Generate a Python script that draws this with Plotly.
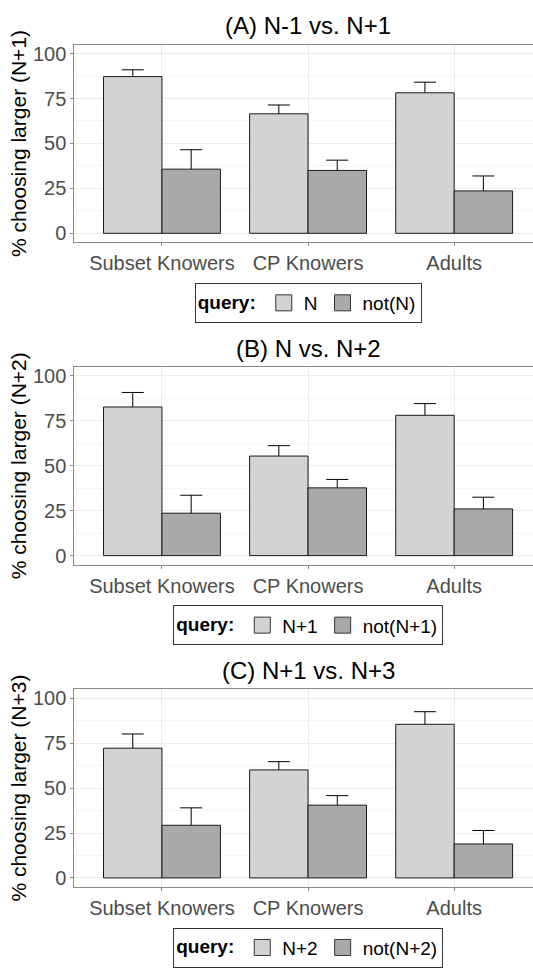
import plotly.graph_objects as go

# ---------------- data ----------------
groups = ["Subset Knowers", "CP Knowers", "Adults"]

panel_titles = ["(A) N-1 vs. N+1", "(B) N vs. N+2", "(C) N+1 vs. N+3"]
y_titles = ["% choosing larger (N+1)", "% choosing larger (N+2)", "% choosing larger (N+3)"]
query_names = ["N", "N+1", "N+2"]
not_query_names = ["not(N)", "not(N+1)", "not(N+2)"]

a_query_mean = [87.2, 66.5, 78.2]
a_query_se = [3.8, 4.9, 5.9]
a_not_mean = [35.7, 35.0, 23.6]
a_not_se = [10.8, 5.7, 8.3]

b_query_mean = [82.7, 55.4, 78.1]
b_query_se = [8.1, 5.8, 6.5]
b_not_mean = [23.6, 37.7, 26.0]
b_not_se = [10.0, 4.7, 6.5]

c_query_mean = [72.2, 60.1, 85.5]
c_query_se = [7.9, 4.6, 7.0]
c_not_mean = [29.3, 40.5, 18.9]
c_not_se = [9.7, 5.3, 7.5]

y_ticks = [0, 25, 50, 75, 100]
y_minor = [12.5, 37.5, 62.5, 87.5]

panels = [
    (a_query_mean, a_query_se, a_not_mean, a_not_se),
    (b_query_mean, b_query_se, b_not_mean, b_not_se),
    (c_query_mean, c_query_se, c_not_mean, c_not_se),
]

# ---------------- styling / layout ----------------
W, H = 533, 968
LIGHT = "#d3d3d3"
DARK = "#a9a9a9"
EDGE = "#1a1a1a"
AXIS = "#8a8a8a"
FONT = "Liberation Sans, Arial, sans-serif"

plot_left = 74.3
plot_center_px = 308.2
# panel (top, bottom) in pixels from the top of the page
panel_px = [(45, 244.3), (370, 569.3), (695, 894.3)]
title_px = [26, 351, 676]
legend_px = [305.5, 630.5, 955.5]


def py(px):
    return (H - px) / H


fig = go.Figure()
layout = dict(
    width=W, height=H,
    margin=dict(l=0, r=0, t=0, b=0),
    paper_bgcolor="white", plot_bgcolor="white",
    font=dict(family=FONT, color="black"),
    barmode="group", bargap=0.2, bargroupgap=0,
    annotations=[],
)

for i, (qm, qs, nm, ns) in enumerate(panels):
    k = "" if i == 0 else str(i + 1)
    xa, ya = "x" + k, "y" + k
    leg = "legend" + k

    series = ((qm, qs, LIGHT, query_names[i]), (nm, ns, DARK, not_query_names[i]))
    # error bars first (drawn underneath), then the opaque bars on top
    for mean, se, color, name in series:
        fig.add_trace(go.Bar(
            x=groups, y=mean, xaxis=xa, yaxis=ya, showlegend=False,
            offsetgroup=name,
            marker=dict(color="rgba(0,0,0,0)", line=dict(width=0)),
            error_y=dict(type="data", array=se, color="black",
                         thickness=1, width=11),
            hoverinfo="skip",
        ))
    for mean, se, color, name in series:
        fig.add_trace(go.Bar(
            x=groups, y=mean, xaxis=xa, yaxis=ya, showlegend=False,
            offsetgroup=name,
            marker=dict(color=color, line=dict(color=EDGE, width=1)),
            hoverinfo="skip",
        ))
    for color, name in ((LIGHT, query_names[i]), (DARK, not_query_names[i])):
        fig.add_trace(go.Scatter(
            x=[None], y=[None], xaxis=xa, yaxis=ya, mode="markers",
            name=name, legend=leg, showlegend=True,
            marker=dict(symbol="square", size=16, color=color,
                        line=dict(color="#333333", width=1)),
        ))

    top, bot = panel_px[i]
    layout["xaxis" + k] = dict(
        domain=[plot_left / W, 1], anchor=ya, type="category",
        range=[-0.6, 2.6 - (plot_left + 3.2 * 146.1 - W) / 146.1],
        showline=True, linecolor=AXIS, linewidth=1, mirror=True,
        ticks="outside", ticklen=3, tickcolor=AXIS,
        showgrid=True, gridcolor="#ebebeb", gridwidth=1,
        tickfont=dict(size=20, color="#4d4d4d"),
        zeroline=False, automargin=False,
    )
    layout["yaxis" + k] = dict(
        domain=[py(bot), py(top)], anchor=xa,
        range=[-5, 105], tickvals=y_ticks,
        showline=True, linecolor=AXIS, linewidth=1,
        ticks="outside", ticklen=3, tickcolor=AXIS,
        showgrid=True, gridcolor="#ebebeb", gridwidth=1,
        minor=dict(tickvals=y_minor, showgrid=True, gridcolor="#f5f5f5",
                   gridwidth=1, ticks=""),
        tickfont=dict(size=20, color="#4d4d4d"),
        zeroline=False, automargin=False,
        title=dict(text=y_titles[i], font=dict(size=21, color="black"),
                   standoff=0),
    )
    layout[leg] = dict(
        x=plot_center_px / W, xanchor="center",
        y=py(legend_px[i]), yanchor="middle",
        orientation="h", bgcolor="white",
        bordercolor="#333333", borderwidth=1,
        font=dict(size=19, color="black", family=FONT),
        title=dict(text="<b>query:</b>", side="left",
                   font=dict(size=19, color="black", family=FONT)),
        itemclick=False, itemdoubleclick=False,
    )
    layout["annotations"].append(dict(
        text=panel_titles[i], xref=xa, x=1, yref="paper", y=py(title_px[i]),
        xanchor="center", yanchor="middle", showarrow=False,
        font=dict(size=24, color="black", family=FONT),
    ))

fig.update_layout(**layout)
fig.write_html("out.html")
